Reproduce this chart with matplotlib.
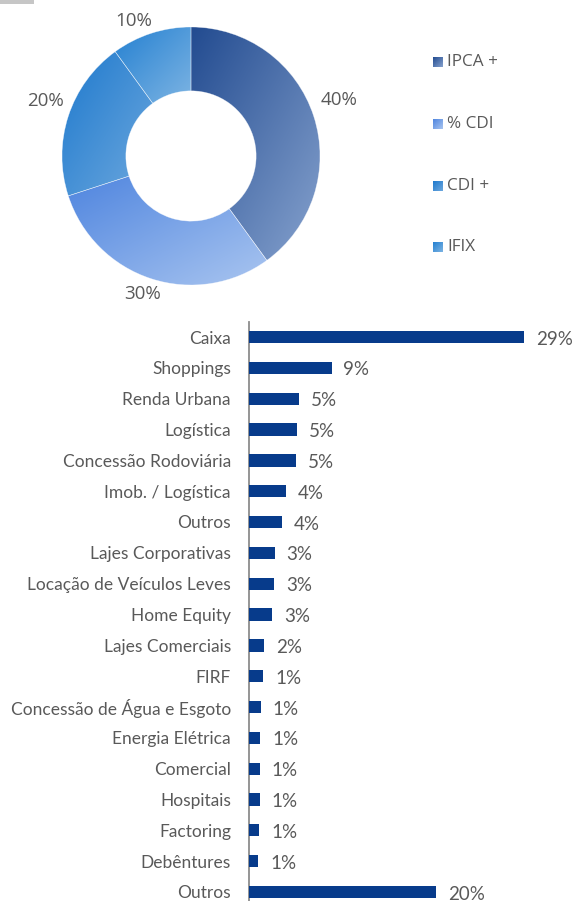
import numpy as np
import matplotlib
matplotlib.use("Agg")
import matplotlib.pyplot as plt
from matplotlib.colors import LinearSegmentedColormap
from matplotlib.patches import Rectangle

# ---------------- data ----------------
donut_labels = ["IPCA +", "% CDI", "CDI +", "IFIX"]
donut_values = [40, 30, 20, 10]
donut_texts = ["40%", "30%", "20%", "10%"]

categories = ["Caixa", "Shoppings", "Renda Urbana", "Logística", "Concessão Rodoviária",
              "Imob. / Logística", "Outros", "Lajes Corporativas", "Locação de Veículos Leves",
              "Home Equity", "Lajes Comerciais", "FIRF", "Concessão de Água e Esgoto",
              "Energia Elétrica", "Comercial", "Hospitais", "Factoring", "Debêntures", "Outros"]
bar_values = [29.0, 8.7, 5.3, 5.1, 5.0, 3.9, 3.5, 2.7, 2.65, 2.45, 1.55, 1.5, 1.25,
              1.2, 1.15, 1.15, 1.1, 1.0, 19.7]
bar_labels = ["29%", "9%", "5%", "5%", "5%", "4%", "4%", "3%", "3%", "3%", "2%", "1%", "1%",
              "1%", "1%", "1%", "1%", "1%", "20%"]

# ---------------- styles ----------------
W, H = 576, 901
grad_colors = [("#224b90", "#86a2ce"),
               ("#4f85df", "#a9c5f0"),
               ("#1e79cd", "#6da8de"),
               ("#2480d1", "#7db4e3")]
text_gray = "#595959"
bar_color = "#073b8b"

fig = plt.figure(figsize=(W / 100, H / 100), dpi=100)

# full-figure axes in pixel units (y up)
pax = fig.add_axes([0, 0, 1, 1])
pax.set_xlim(0, W)
pax.set_ylim(0, H)
pax.axis("off")

# small gray bar at top-left
pax.add_patch(Rectangle((0, H - 4), 34, 4, color="#c6c6c6", lw=0))

cx, cy, R = 191, H - 156, 129


def gradient_fill(ax, patch, c1, c2):
    bb = patch.get_path().get_extents(patch.get_transform() - ax.transData)
    x0, y0, x1, y1 = bb.x0, bb.y0, bb.x1, bb.y1
    n = 200
    u = np.linspace(0, 1, n)
    U, V = np.meshgrid(u, u)  # V=0 at top row (origin upper)
    T = (U + V) / 2
    cmap = LinearSegmentedColormap.from_list("g", [c1, c2])
    im = ax.imshow(T, cmap=cmap, vmin=0, vmax=1, extent=(x0, x1, y0, y1),
                   origin="upper", aspect="auto", interpolation="bilinear", zorder=2)
    im.set_clip_path(patch)


wedges, _ = pax.pie(donut_values, center=(cx, cy), radius=R, startangle=90,
                    counterclock=False,
                    wedgeprops=dict(width=R * 0.495, edgecolor=(1, 1, 1, 0.55), linewidth=0.4))
pax.set_xlim(0, W)
pax.set_ylim(0, H)
pax.set_aspect("auto")
for w, (c1, c2) in zip(wedges, grad_colors):
    w.set_facecolor("none")
    w.set_zorder(3)
    gradient_fill(pax, w, c1, c2)

# percentage labels (pixel positions, y from top)
label_pos = [(339, 100), (143, 294), (45, 101), (134, 21)]
for (lx, ly), t in zip(label_pos, donut_texts):
    pax.text(lx, H - ly, t, ha="center", va="center", fontsize=13.5,
             color=text_gray, family="Open Sans")

# legend
leg_y = [62, 124, 186, 247]
for (c1, c2), name, ly in zip(grad_colors, donut_labels, leg_y):
    sq = Rectangle((433, H - ly - 5), 10, 10, facecolor="none", lw=0)
    pax.add_patch(sq)
    gradient_fill(pax, sq, c1, c2)
    pax.text(447, H - ly, name, ha="left", va="center", fontsize=12.3,
             color=text_gray, family="Open Sans")

# ---------------- bar chart ----------------
step = (892 - 337) / (len(categories) - 1)
top_px = 337 - step / 2
height_px = step * len(categories)
left_px = 249
xmax = 31
px_per_unit = (524 - left_px) / 29.0
width_px = xmax * px_per_unit

bax = fig.add_axes([left_px / W, (H - top_px - height_px) / H, width_px / W, height_px / H])
y = np.arange(len(categories))
bax.barh(y, bar_values, height=0.4, color=bar_color, zorder=3)
bax.set_ylim(len(categories) - 0.5, -0.5)
bax.set_xlim(0, xmax)
bax.set_yticks(y)
bax.set_yticklabels(categories, fontsize=12.5, color=text_gray, family="Lato")
bax.tick_params(axis="y", length=0, pad=13)
bax.set_xticks([])
for s in ["top", "right", "bottom"]:
    bax.spines[s].set_visible(False)
bax.spines["left"].set_color("#8c8c8c")
bax.spines["left"].set_linewidth(1.3)
bax.patch.set_alpha(0)
for yi, v, lab in zip(y, bar_values, bar_labels):
    bax.annotate(lab, (v, yi), xytext=(8.6, -1.5), textcoords="offset points",
                 ha="left", va="center", fontsize=13.5, color=text_gray, family="Lato")

fig.savefig("out.png", dpi=100)
